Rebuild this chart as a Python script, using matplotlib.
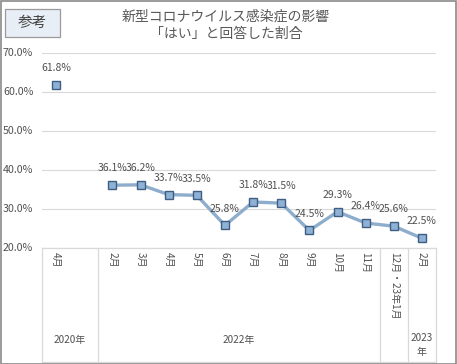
import numpy as np
import matplotlib
matplotlib.use('Agg')
import matplotlib.pyplot as plt
from matplotlib.patches import Rectangle
from matplotlib import transforms

plt.rcParams['font.family'] = ['Noto Sans CJK JP', 'DejaVu Sans']

# データ
months = ['4月', '', '2月', '3月', '4月', '5月', '6月', '7月', '8月', '9月',
          '10月', '11月', '12月・23年1月', '2月']
values = [61.8, np.nan, 36.1, 36.2, 33.7, 33.5, 25.8, 31.8, 31.5, 24.5,
          29.3, 26.4, 25.6, 22.5]
years = ['2020年', '2022年', '2023\n年']
year_centers = [0.5, 6.5, 13]
separators = [-0.5, 1.5, 11.5, 12.5, 13.5]

title = '新型コロナウイルス感染症の影響\n「はい」と回答した割合'

W, H = 457, 364
fig = plt.figure(figsize=(W / 100, H / 100), dpi=100)
ax = fig.add_axes([42 / W, 1 - 248 / H, (436 - 42) / W, (248 - 53) / H])

x = np.arange(len(values))
v = np.array(values) / 100

line_col = '#8eadcc'
face_col = '#8fb1d6'
edge_col = '#3e5f82'
text_col = '#505050'
grid_col = '#d9d9d9'

# 線（2022年以降のみ連結）
ax.plot(x[2:], v[2:], color=line_col, lw=2.4, zorder=2)
ax.plot(x, v, ls='none', marker='s', ms=6.2, mfc=face_col, mec=edge_col,
        mew=1.0, zorder=3)

for xi, val in zip(x, values):
    if np.isnan(val):
        continue
    ax.annotate(f'{val:.1f}%', (xi, val / 100), xytext=(0, 8.5),
                textcoords='offset points', ha='center', va='bottom',
                fontsize=7.5, color=text_col)

ax.set_xlim(-0.5, 13.5)
ax.set_ylim(0.2, 0.7)
ax.set_yticks(np.arange(0.2, 0.71, 0.1))
ax.yaxis.grid(True, color=grid_col, lw=0.8)
ax.set_axisbelow(True)
ax.tick_params(axis='y', length=0, labelleft=False)
ax.set_xticks([])
for s in ax.spines.values():
    s.set_visible(False)

# y軸ラベル
ylab_tr = transforms.blended_transform_factory(ax.transAxes, ax.transData)
for t in np.arange(0.2, 0.71, 0.1):
    ax.text(-39 / (436 - 42), t, f'{t * 100:.1f}%', transform=ylab_tr,
            ha='left', va='center', fontsize=7.7, color=text_col)

# カテゴリ軸（多階層）
bt = transforms.blended_transform_factory(ax.transData, ax.transAxes)
ybot = (248 - 362) / (248 - 53)
ax.plot([-0.5, 13.5], [0, 0], transform=bt, color=grid_col, lw=0.9, clip_on=False)
ax.plot([-0.5, 13.5], [ybot, ybot], transform=bt, color=grid_col, lw=0.9, clip_on=False)
for s in separators:
    ax.plot([s, s], [0, ybot], transform=bt, color=grid_col, lw=0.9, clip_on=False)

for xi, m in zip(x, months):
    if m:
        ax.text(xi, -0.022, m, transform=bt, rotation=-90, ha='center', va='top',
                fontsize=7.2, color=text_col)

year_y = [340, 340, 345]
for xc, y, yy in zip(year_centers, years, year_y):
    ax.text(xc, (248 - yy) / (248 - 53), y, transform=bt, ha='center', va='center',
            fontsize=7.2, color=text_col, linespacing=1.6)

# タイトル
fig.text(226 / W, 1 - 25 / H, title, ha='center', va='center', fontsize=10,
         color='#595959', linespacing=1.3)

# 「参考」ボックス
fig.patches.append(Rectangle((5 / W, 1 - 37 / H), 55 / W, 28 / H, transform=fig.transFigure,
                             facecolor='#e8eef6', edgecolor='#9a9a9a', lw=0.9))
fig.text(32.5 / W, 1 - 23 / H, '参考', ha='center', va='center', fontsize=10.5,
         color='#404040')

# 外枠
fig.patches.append(Rectangle((0.5 / W, 0.5 / H), (W - 1.5) / W, (H - 1.5) / H,
                             transform=fig.transFigure, facecolor='none',
                             edgecolor='#8a8a8a', lw=1.2))

fig.savefig('out.png', dpi=100)
